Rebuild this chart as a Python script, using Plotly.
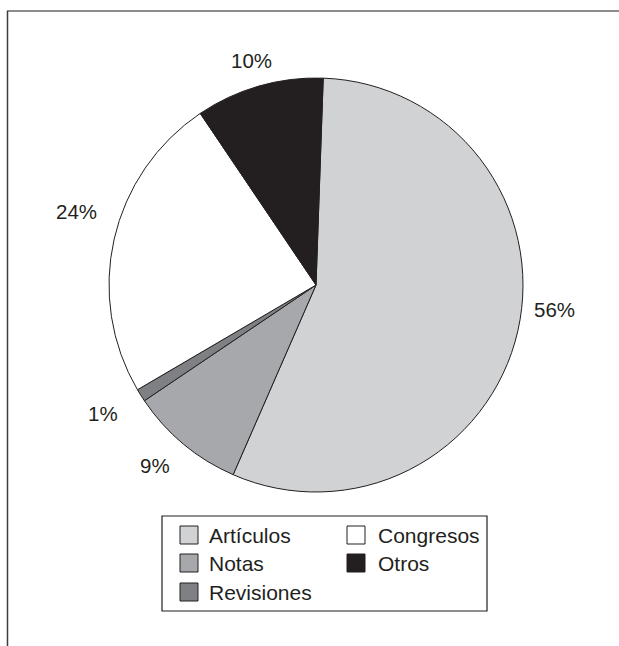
import plotly.graph_objects as go

# Publication types and their share (%)
categories = ["Artículos", "Notas", "Revisiones", "Congresos", "Otros"]
shares = [56, 9, 1, 24, 10]
slice_colors = ["#d1d2d4", "#a7a8ab", "#7f8083", "#ffffff", "#231f20"]

# Legend layout: entries listed row by row in two columns
legend_order = ["Artículos", "Congresos", "Notas", "Otros", "Revisiones"]

W, H = 619, 646
FONT = "Liberation Sans, Arial, Helvetica, sans-serif"
INK = "#231f20"


def px(x):
    return x / W


def py(y):
    return 1 - y / H


# Pie geometry in pixels
cx, cy, r = 316, 285, 207

fig = go.Figure()
fig.add_trace(go.Pie(
    labels=categories,
    values=shares,
    sort=False,
    direction="clockwise",
    rotation=2,
    marker=dict(colors=slice_colors, line=dict(color=INK, width=1)),
    textinfo="none",
    hoverinfo="label+percent",
    showlegend=False,
    domain=dict(x=[px(cx - r), px(cx + r)], y=[py(cy + r), py(cy - r)]),
))

# Percentage labels placed around the pie
label_pos = {
    "Artículos": (554, 309),
    "Notas": (155, 465),
    "Revisiones": (103, 413),
    "Congresos": (76, 211),
    "Otros": (251, 61),
}
annotations = []
for name, val in zip(categories, shares):
    x, y = label_pos[name]
    annotations.append(dict(
        x=px(x), y=py(y), xref="paper", yref="paper",
        text=f"{val}%", showarrow=False,
        font=dict(family=FONT, size=20.5, color=INK),
        xanchor="center", yanchor="middle",
    ))

shapes = []
# Outer frame: top and left rules
shapes.append(dict(type="line", xref="paper", yref="paper",
                   x0=px(7), x1=px(619), y0=py(11), y1=py(11),
                   line=dict(color="#8c8c8c", width=2)))
shapes.append(dict(type="line", xref="paper", yref="paper",
                   x0=px(7.5), x1=px(7.5), y0=py(11), y1=py(646),
                   line=dict(color="#3c3c3c", width=1.5)))

# Legend box
shapes.append(dict(type="rect", xref="paper", yref="paper",
                   x0=px(162), x1=px(487), y0=py(516), y1=py(611),
                   line=dict(color=INK, width=1.2), fillcolor="white"))

col_x = [180, 347]
text_x = [207, 376]
row_y = [535, 563, 592]
sw = 18
color_of = dict(zip(categories, slice_colors))
for i, name in enumerate(legend_order):
    row, col = divmod(i, 2)
    x0 = col_x[col]
    yc = row_y[row]
    shapes.append(dict(type="rect", xref="paper", yref="paper",
                       x0=px(x0), x1=px(x0 + sw),
                       y0=py(yc + sw / 2), y1=py(yc - sw / 2),
                       line=dict(color=INK, width=1), fillcolor=color_of[name]))
    annotations.append(dict(
        x=px(text_x[col]), y=py(yc), xref="paper", yref="paper",
        text=name, showarrow=False,
        font=dict(family=FONT, size=21, color=INK),
        xanchor="left", yanchor="middle",
    ))

fig.update_layout(
    width=W, height=H,
    margin=dict(l=0, r=0, t=0, b=0),
    paper_bgcolor="white",
    plot_bgcolor="white",
    shapes=shapes,
    annotations=annotations,
)

fig.write_html("out.html")
